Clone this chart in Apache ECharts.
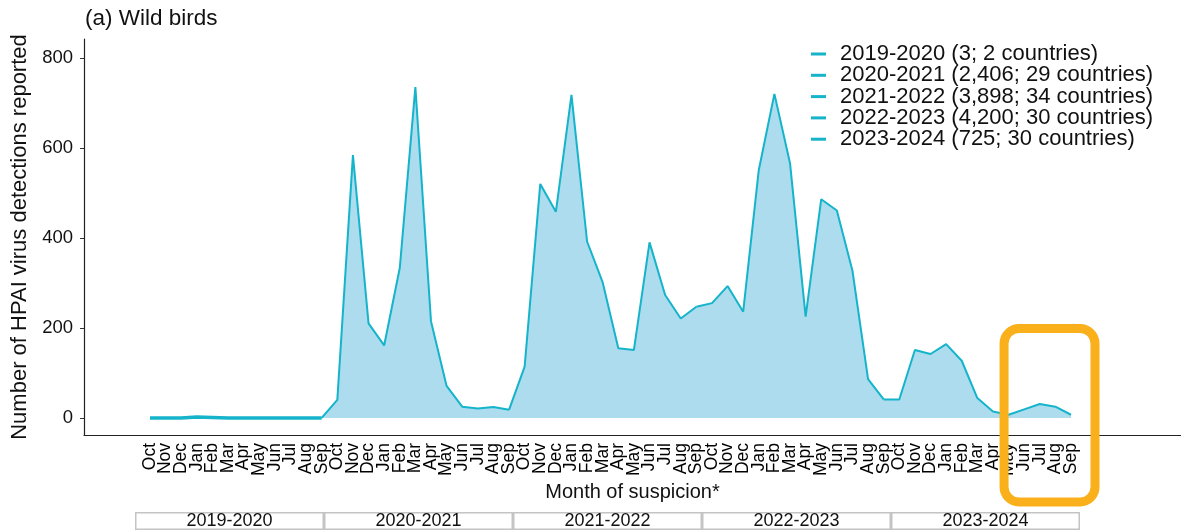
<!DOCTYPE html>
<html>
<head>
<meta charset="utf-8">
<title>HPAI wild birds</title>
<script src="https://cdn.jsdelivr.net/npm/echarts@6/dist/echarts.min.js"></script>
<style>
  html, body { margin: 0; padding: 0; background: #fff; }
  #chart { width: 1181px; height: 532px; }
</style>
</head>
<body>
<div id="chart"></div>
<script>
// ============================================================
// Data
// ============================================================
const monthNames = ['Oct', 'Nov', 'Dec', 'Jan', 'Feb', 'Mar', 'Apr', 'May', 'Jun', 'Jul', 'Aug', 'Sep']
const seasons = ['2019-2020', '2020-2021', '2021-2022', '2022-2023', '2023-2024']
const seasonLabels = [
  '2019-2020 (3; 2 countries)',
  '2020-2021 (2,406; 29 countries)',
  '2021-2022 (3,898; 34 countries)',
  '2022-2023 (4,200; 30 countries)',
  '2023-2024 (725; 30 countries)'
]
const season2019 = [0, 0, 0, 2, 1, 0, 0, 0, 0, 0, 0, 0]
const season2020 = [40, 584, 210, 161, 333, 735, 215, 71, 25, 21, 24, 18]
const season2021 = [114, 520, 458, 718, 392, 301, 155, 151, 390, 273, 221, 247]
const season2022 = [255, 293, 236, 551, 720, 566, 225, 486, 461, 327, 86, 41]
const season2023 = [41, 151, 142, 164, 127, 44, 14, 7, 19, 31, 25, 7]
const yTicks = [0, 200, 400, 600, 800]
const stripValues = [1, 1, 1, 1, 1]
// highlighted months (index in the 60-month axis)
const highlightFrom = 55
const highlightTo = 59

const seasonValues = [season2019, season2020, season2021, season2022, season2023]

// ============================================================
// Styles
// ============================================================
const FONT = "'Liberation Sans', Arial, sans-serif"
const LINE = '#15b4ca'
const FILL = '#addcee'
const ORANGE = '#f9b01a'
const TEXT = '#111'

const Y_MIN = -38
const Y_MAX = 842

// 60 month labels along the axis, and all values in one row
const monthLabels = []
seasons.forEach(() => monthNames.forEach(m => monthLabels.push(m)))
const allValues = [].concat(...seasonValues)

// shaded area under the whole curve (one piece, no seams)
function buildArea() {
  return {
    name: 'area',
    type: 'line',
    xAxisIndex: 1,
    yAxisIndex: 1,
    data: allValues,
    symbol: 'none',
    lineStyle: { width: 0 },
    areaStyle: { color: FILL, opacity: 1 },
    emphasis: { disabled: true },
    silent: true,
    z: 2
  }
}

// one line per season; each one also takes the last month of the
// previous season so the line runs on without a gap
function buildLines() {
  return seasonValues.map((vals, k) => {
    const data = monthLabels.map(() => null)
    vals.forEach((v, i) => { data[k * 12 + i] = v })
    if (k > 0) data[k * 12 - 1] = seasonValues[k - 1][11]
    return {
      name: seasonLabels[k],
      type: 'line',
      xAxisIndex: 1,
      yAxisIndex: 1,
      data: data,
      symbol: 'none',
      connectNulls: false,
      lineStyle: { color: LINE, width: k === 0 ? 3.5 : 2 },
      itemStyle: { color: LINE },
      emphasis: { disabled: true },
      z: 3
    }
  })
}

const chart = echarts.init(document.getElementById('chart'))

const option = {
  animation: false,
  backgroundColor: '#fff',
  textStyle: { fontFamily: FONT },
  title: {
    text: '(a) Wild birds',
    left: 85,
    top: 7,
    padding: 0,
    textStyle: { fontFamily: FONT, fontSize: 22.5, fontWeight: 'normal', color: TEXT }
  },
  legend: {
    data: seasonLabels,
    orient: 'vertical',
    left: 811,
    top: 43,
    padding: 0,
    itemWidth: 15,
    itemHeight: 3,
    itemGap: -0.7,
    icon: 'rect',
    selectedMode: false,
    textStyle: {
      fontFamily: FONT,
      fontSize: 22,
      lineHeight: 20,
      color: TEXT,
      padding: [0, 0, 0, 9]
    }
  },
  grid: [
    // frame with the axis lines
    { left: 84, right: 0, top: 39, bottom: 97 },
    // months: first point Oct 2019, last point Sep 2024
    { left: 150, width: 921, top: 39, bottom: 97 },
    // season strip
    { left: 135, right: 101, top: 512, height: 18 }
  ],
  xAxis: [
    {
      gridIndex: 0,
      type: 'value',
      min: 0,
      max: 1,
      axisLine: { show: true, onZero: false, lineStyle: { color: '#222', width: 1.2 } },
      axisTick: { show: false },
      axisLabel: { show: false },
      splitLine: { show: false },
      name: 'Month of suspicion*',
      nameLocation: 'middle',
      nameGap: 47,
      nameTextStyle: { fontFamily: FONT, fontSize: 20, color: TEXT }
    },
    {
      gridIndex: 1,
      type: 'category',
      data: monthLabels,
      boundaryGap: false,
      axisLine: { show: false },
      axisTick: { show: false },
      axisLabel: {
        interval: 0,
        rotate: 90,
        margin: 8,
        fontFamily: FONT,
        fontSize: 17.5,
        color: '#000'
      }
    },
    {
      gridIndex: 2,
      type: 'category',
      data: seasons,
      show: false
    }
  ],
  yAxis: [
    {
      gridIndex: 0,
      type: 'value',
      min: Y_MIN,
      max: Y_MAX,
      axisLine: { show: true, onZero: false, lineStyle: { color: '#222', width: 1.2 } },
      axisTick: { show: true, length: 4, customValues: yTicks, lineStyle: { color: '#333' } },
      axisLabel: { customValues: yTicks, margin: 11, fontFamily: FONT, fontSize: 18.5, color: TEXT },
      splitLine: { show: false },
      name: 'Number of HPAI virus detections reported',
      nameLocation: 'middle',
      nameGap: 48,
      nameTextStyle: { fontFamily: FONT, fontSize: 22, color: TEXT }
    },
    {
      gridIndex: 1,
      type: 'value',
      min: Y_MIN,
      max: Y_MAX,
      show: false
    },
    {
      gridIndex: 2,
      type: 'value',
      min: 0,
      max: 1,
      show: false
    }
  ],
  series: [buildArea()].concat(buildLines(), [
    {
      name: 'strip',
      type: 'bar',
      xAxisIndex: 2,
      yAxisIndex: 2,
      data: stripValues,
      barWidth: '100%',
      barCategoryGap: 0,
      itemStyle: { color: '#ffffff', borderColor: '#c4c4c4', borderWidth: 1.5 },
      label: {
        show: true,
        position: 'inside',
        formatter: '{b}',
        fontFamily: FONT,
        fontSize: 18,
        color: TEXT
      },
      emphasis: { disabled: true },
      silent: true
    }
  ])
}

chart.setOption(option)

// orange highlight round the last months, placed from the month axis
const xFrom = chart.convertToPixel({ xAxisIndex: 1 }, highlightFrom)
const xTo = chart.convertToPixel({ xAxisIndex: 1 }, highlightTo)
chart.setOption({
  graphic: [
    {
      type: 'rect',
      shape: { x: xFrom - 4.5, y: 328.5, width: xTo - xFrom + 28.5, height: 173.5, r: 15 },
      style: { fill: 'none', stroke: ORANGE, lineWidth: 9 },
      z: 10,
      silent: true
    }
  ]
})
</script>
</body>
</html>
